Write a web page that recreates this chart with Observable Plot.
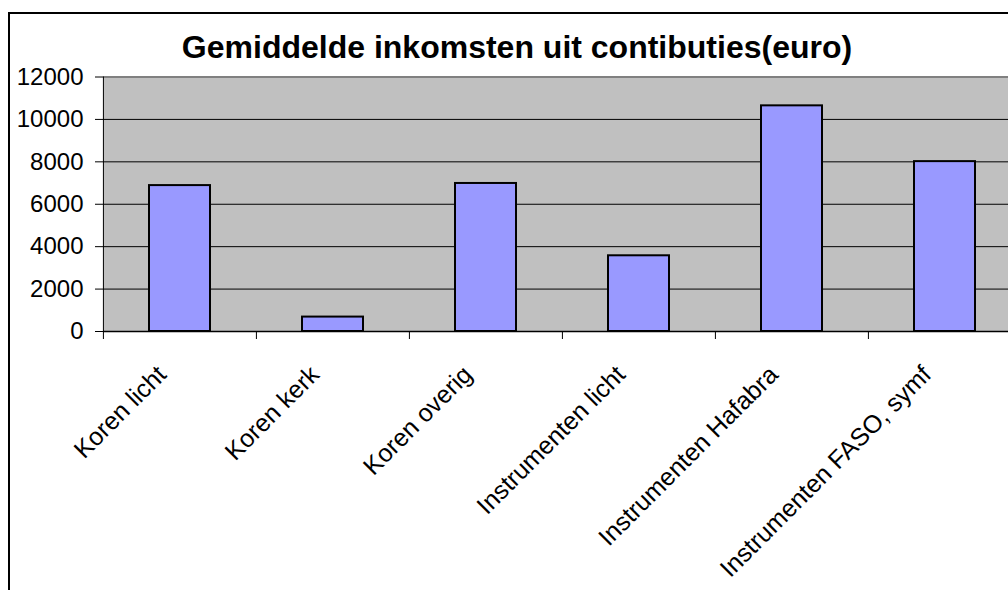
<!DOCTYPE html>
<html>
<head>
<meta charset="utf-8">
<script src="https://cdn.jsdelivr.net/npm/d3@7"></script>
<script src="https://cdn.jsdelivr.net/npm/@observablehq/plot@0.6"></script>
<style>
  html, body { margin: 0; padding: 0; width: 1008px; height: 590px; overflow: hidden; background: #fff; }
  #frame { position: absolute; left: 8px; top: 12px; width: 1100px; height: 700px; border: 2px solid #000; box-sizing: border-box; }
  #title { position: absolute; left: 0; top: 31px; width: 1034px; text-align: center; font-family: "Liberation Sans", Arial, sans-serif; font-weight: bold; font-size: 32px; line-height: 32px; color: #000; white-space: nowrap; }
  #chart { position: absolute; left: 0; top: 56px; width: 1040px; }
  #chart svg { max-width: none !important; }
</style>
</head>
<body>
<div id="frame"></div>
<div id="title">Gemiddelde inkomsten uit contibuties(euro)</div>
<div id="chart"></div>
<script>
const categories = ["Koren licht", "Koren kerk", "Koren overig", "Instrumenten licht", "Instrumenten Hafabra", "Instrumenten FASO, symf"];
const values = [6880, 680, 6980, 3570, 10640, 8010];
const yTicks = [0, 2000, 4000, 6000, 8000, 10000, 12000];

const data = categories.map((c, i) => ({cat: c, value: values[i]}));

const W = 1040, H = 534, ML = 103, MR = 18, MT = 20.5, MB = 259;
const step = (W - ML - MR) / categories.length;

const chart = Plot.plot({
  width: W,
  height: H,
  marginLeft: ML,
  marginRight: MR,
  marginTop: MT,
  marginBottom: MB,
  style: {fontFamily: "Liberation Sans, Arial, sans-serif", color: "#000", background: "transparent", overflow: "visible", maxWidth: "none"},
  x: {domain: categories, paddingInner: 0.6, paddingOuter: 0.3, label: null},
  y: {domain: [0, 12000], label: null},
  marks: [
    Plot.frame({fill: "#C0C0C0", stroke: null}),
    Plot.ruleY(yTicks.filter(d => d > 0 && d < 12000), {stroke: "#000", strokeWidth: 1}),
    Plot.ruleY([12000], {stroke: "#808080", strokeWidth: 2}),
    Plot.barY(data, {x: "cat", y: "value", fill: "#9999FF", stroke: "#000", strokeWidth: 2}),
    Plot.ruleY([0], {stroke: "#000", strokeWidth: 1.5}),
    Plot.ruleX([categories[0]], {dx: -step / 2, y1: 0, y2: 12000, stroke: "#000", strokeWidth: 1}),
    Plot.ruleX(categories, {dx: -step / 2, y1: 0, y2: 0, insetBottom: -8, stroke: "#000", strokeWidth: 1}),
    Plot.axisY({ticks: yTicks, tickSize: 8, tickPadding: 12, fontSize: 24, tickFormat: d => String(d)}),
    Plot.axisX({tickSize: 0, tickRotate: -45, tickPadding: 39, dx: -18, fontSize: 25})
  ]
});
document.getElementById("chart").appendChild(chart);
</script>
</body>
</html>
